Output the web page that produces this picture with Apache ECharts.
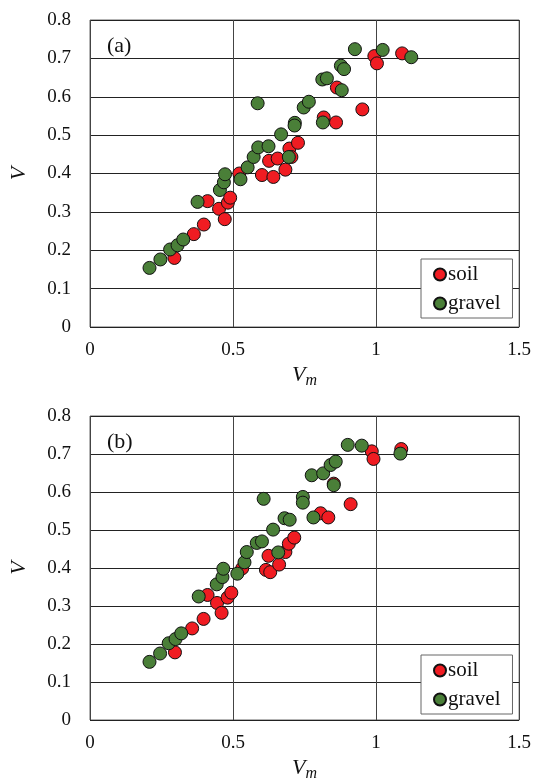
<!DOCTYPE html>
<html>
<head>
<meta charset="utf-8">
<script src="https://cdn.jsdelivr.net/npm/echarts@6/dist/echarts.min.js"></script>
<style>
  html, body { margin: 0; padding: 0; background: #fff; }
  #chart { width: 534px; height: 783px; }
</style>
</head>
<body>
<div id="chart"></div>
<script>
// panel (a): [Vm, V]
var soilA = [
    [0.295, 0.180], [0.363, 0.242], [0.398, 0.267], [0.411, 0.328], [0.451, 0.308],
    [0.471, 0.281], [0.482, 0.324], [0.490, 0.337], [0.522, 0.400], [0.601, 0.396],
    [0.641, 0.391], [0.626, 0.433], [0.656, 0.439], [0.683, 0.410], [0.697, 0.465],
    [0.704, 0.443], [0.727, 0.480], [0.817, 0.546], [0.860, 0.533], [0.863, 0.624],
    [0.952, 0.567], [0.994, 0.706], [1.003, 0.687], [1.091, 0.713]
];
var gravelA = [
    [0.208, 0.154], [0.246, 0.176], [0.280, 0.202], [0.306, 0.213], [0.326, 0.228],
    [0.376, 0.326], [0.454, 0.357], [0.468, 0.377], [0.472, 0.398], [0.526, 0.385],
    [0.551, 0.416], [0.572, 0.443], [0.588, 0.468], [0.624, 0.471], [0.668, 0.502],
    [0.695, 0.443], [0.716, 0.532], [0.715, 0.525], [0.586, 0.583], [0.747, 0.572],
    [0.765, 0.587], [0.814, 0.533], [0.812, 0.645], [0.828, 0.648], [0.880, 0.617],
    [0.877, 0.681], [0.888, 0.672], [0.926, 0.724], [1.023, 0.722], [1.123, 0.703]
];
// panel (b)
var soilB = [
    [0.297, 0.178], [0.357, 0.241], [0.397, 0.266], [0.411, 0.329], [0.444, 0.308],
    [0.460, 0.282], [0.481, 0.322], [0.494, 0.335], [0.532, 0.399], [0.615, 0.395],
    [0.630, 0.389], [0.624, 0.432], [0.683, 0.442], [0.661, 0.409], [0.695, 0.464],
    [0.714, 0.480], [0.806, 0.544], [0.833, 0.533], [0.852, 0.622], [0.911, 0.568],
    [0.985, 0.707], [0.991, 0.687], [1.088, 0.713]
];
var gravelB = [
    [0.208, 0.153], [0.245, 0.175], [0.275, 0.202], [0.299, 0.213], [0.319, 0.228],
    [0.380, 0.325], [0.443, 0.357], [0.463, 0.376], [0.466, 0.398], [0.515, 0.385],
    [0.540, 0.415], [0.548, 0.442], [0.583, 0.466], [0.601, 0.470], [0.640, 0.501],
    [0.658, 0.441], [0.680, 0.531], [0.698, 0.527], [0.607, 0.582], [0.744, 0.587],
    [0.744, 0.572], [0.781, 0.533], [0.775, 0.644], [0.815, 0.649], [0.852, 0.618],
    [0.841, 0.671], [0.859, 0.680], [0.901, 0.724], [0.950, 0.722], [1.085, 0.701]
];
var panelLabels = ['(a)', '(b)'];

var font = 'Liberation Serif';
var red = '#f01c22';
var green = '#4a7f38';

var myChart = echarts.init(document.getElementById('chart'));

function xAx(i) {
    return {
        gridIndex: i, type: 'value', min: 0, max: 1.5, interval: 0.5,
        name: '{v|V}{s|m}', nameLocation: 'middle', nameGap: 34,
        nameTextStyle: {
            rich: {
                v: { fontFamily: font, fontStyle: 'italic', fontSize: 22, color: '#111' },
                s: { fontFamily: font, fontStyle: 'italic', fontSize: 16, color: '#111', padding: [12, 0, 0, 0] }
            }
        },
        axisLine: { show: false },
        axisTick: { show: false },
        axisLabel: { fontFamily: font, fontSize: 19, color: '#111', margin: 14 },
        splitLine: { lineStyle: { color: '#444', width: 1 } }
    };
}
function yAx(i) {
    return {
        gridIndex: i, type: 'value', min: 0, max: 0.8, interval: 0.1,
        name: 'V', nameLocation: 'middle', nameGap: 60,
        nameTextStyle: { fontFamily: font, fontStyle: 'italic', fontSize: 22, color: '#111' },
        axisLine: { show: false },
        axisTick: { show: false },
        axisLabel: {
            fontFamily: font, fontSize: 19, color: '#111', margin: 19,
            formatter: function (v) { return v === 0 ? '0' : v.toFixed(1); }
        },
        splitLine: { lineStyle: { color: '#222', width: 1 } }
    };
}
function legend(i, top) {
    return {
        left: 421, top: top, orient: 'vertical',
        padding: [5, 12, 4, 12], itemGap: 8,
        itemWidth: 12, itemHeight: 12,
        backgroundColor: '#fff', borderColor: '#666', borderWidth: 1,
        textStyle: { fontFamily: font, fontSize: 21, color: '#111', padding: [0, 0, 0, -3] },
        data: ['soil', 'gravel']
    };
}
function ser(name, i, data, color) {
    return {
        name: name, type: 'scatter', xAxisIndex: i, yAxisIndex: i,
        symbolSize: 13, data: data,
        itemStyle: { color: color, opacity: 1, borderColor: '#111', borderWidth: 1 }
    };
}

var option = {
    backgroundColor: '#fff',
    animation: false,
    grid: [
        { left: 87, top: 20, width: 433, height: 307, show: true, borderColor: '#666', borderWidth: 1 },
        { left: 85, top: 416, width: 436, height: 310, show: true, borderColor: '#666', borderWidth: 1 }
    ],
    xAxis: [xAx(0), xAx(1)],
    yAxis: [yAx(0), yAx(1)],
    legend: [legend(0, 259), legend(1, 655)],
    graphic: [
        { type: 'text', left: 107, top: 35, style: { text: panelLabels[0], font: '22px "Liberation Serif"', fill: '#111' } },
        { type: 'text', left: 107, top: 431, style: { text: panelLabels[1], font: '22px "Liberation Serif"', fill: '#111' } }
    ],
    series: [
        ser('soil', 0, soilA, red),
        ser('gravel', 0, gravelA, green),
        ser('soil', 1, soilB, red),
        ser('gravel', 1, gravelB, green)
    ]
};

option && myChart.setOption(option);
</script>
</body>
</html>
